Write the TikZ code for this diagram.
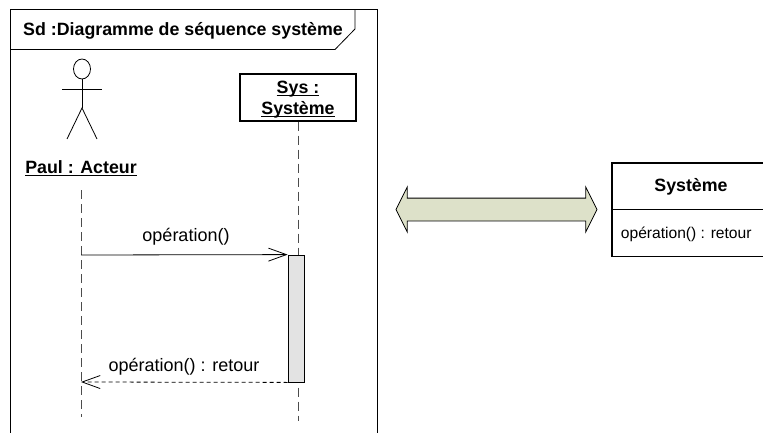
\documentclass[tikz,border=0pt]{standalone}
\usepackage{fontspec}
\setmainfont{Liberation Sans}
\usepackage{tikz}
\usetikzlibrary{
  shapes.arrows,
  arrows.meta,
  positioning
}
\definecolor{linkfill}{HTML}{DDE1C9}
\newcommand{\ulbold}[1]{\leavevmode\setbox0=\hbox{#1}\rlap{\rule[-2.6pt]{\wd0}{1.1pt}}\box0}
\tikzset{
  boldtext/.style = {inner sep=0pt, font=\bfseries\fontsize{17.8}{21}\selectfont},
  objbox/.style = {draw, line width=1.3pt, align=center, boldtext},
  lifeline/.style = {draw=black!70, dash pattern=on 9pt off 5pt},
  msgtext/.style = {font=\fontsize{18}{20}\selectfont, inner sep=0pt},
  msgtip/.style = {-{Straight Barb[length=18pt,width=13pt,harpoon=false]}}
}

\begin{document}
\begin{tikzpicture}[x=1pt, y=-1pt, line width=0.8pt]
    \useasboundingbox (0,0) rectangle (763,433);

    % frame
    \draw (10.5,433) -- (10.5,9.5) -- (377,9.5) -- (377,433);
    \draw (10.5,49.5) -- (335,49.5) -- (355,29) -- (355,9.5);
    \node[boldtext] (title) at (183,31) {Sd :Diagramme de séquence système};

    % actor
    \draw (82,69) ellipse (8.5pt and 10pt);
    \coordinate (neck) at (82,79);
    \coordinate (hip) at (82,108);
    \draw (neck) -- (hip);
    \draw (62,89) -- (102,89);
    \draw (67,139) -- (hip) -- (97,139);
    \node[boldtext] (paul) at (81,168.5) {\ulbold{Paul : Acteur}};

    % objects
    \node[objbox, minimum width=116pt, minimum height=47pt] (sys) at (298,97.5) {\rule{0pt}{17pt}\ulbold{Sys :}\\\ulbold{Système}};
    \coordinate (paulstart) at (81,190);
    \coordinate (paulend) at (81,417);
    \coordinate (sysend) at (298,421);
    \draw[lifeline] (paulstart) -- (paulend);
    \draw[lifeline] (sys.south) -- (sysend);

    % activation
    \node[draw, fill=black!11, minimum width=16pt, minimum height=127pt, inner sep=0pt] (act) at (296,318.5) {};
    \coordinate (callstart) at (81,255);
    \coordinate (retend) at (81,382);

    \draw[msgtip] (callstart) -- (act.north west);
    \draw[msgtip, dash pattern=on 4pt off 3pt] (act.south west) -- (retend);
    \node[msgtext] (call) at (186,237) {opération()};
    \node[msgtext] (ret) at (184,367) {opération() : retour};

    % double arrow
    \node[double arrow, draw, fill=linkfill, inner xsep=0pt, inner ysep=11pt, minimum height=201pt, double arrow head extend=11pt, double arrow tip angle=127] (link) at (496.5,209.5) {};

    % class
    \draw[line width=1.1pt] (763,163) -- (612,163) -- (612,256.5) -- (763,256.5);
    \draw (612,209.5) -- (763,209.5);
    \node[boldtext] (classname) at (691,187) {Système};
    \node[msgtext, anchor=west, font=\fontsize{15.6}{18}\selectfont] (classop) at (620.5,234) {opération() : retour};
\end{tikzpicture}
\end{document}
